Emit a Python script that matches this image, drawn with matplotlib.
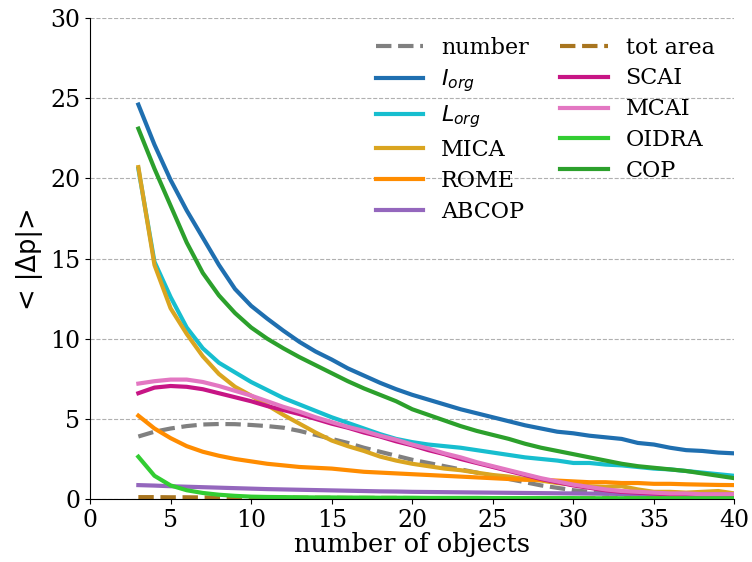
import numpy as np
import matplotlib
matplotlib.use('Agg')
import matplotlib.pyplot as plt

# number of objects
n_obj = np.arange(3, 41)

# mean |delta p| per metric
number = [3.9, 4.2, 4.4, 4.55, 4.65, 4.68, 4.67, 4.62, 4.55, 4.45, 4.25, 4.0, 3.75, 3.5, 3.2, 2.95,
          2.7, 2.45, 2.25, 2.05, 1.85, 1.65, 1.45, 1.25, 1.05, 0.85, 0.7, 0.55, 0.45, 0.35, 0.3,
          0.25, 0.2, 0.2, 0.15, 0.15, 0.15, 0.15]
iorg = [24.6, 22.1, 19.9, 18.0, 16.3, 14.6, 13.1, 12.05, 11.25, 10.5, 9.8, 9.2, 8.7, 8.15, 7.7,
        7.25, 6.85, 6.5, 6.2, 5.9, 5.6, 5.35, 5.1, 4.85, 4.6, 4.4, 4.2, 4.1, 3.95, 3.85, 3.75,
        3.5, 3.4, 3.2, 3.05, 3.0, 2.9, 2.85]
lorg = [20.6, 14.8, 12.6, 10.7, 9.4, 8.5, 7.9, 7.3, 6.8, 6.3, 5.9, 5.5, 5.1, 4.75, 4.4, 4.05,
        3.75, 3.55, 3.4, 3.3, 3.2, 3.05, 2.9, 2.75, 2.6, 2.5, 2.4, 2.25, 2.25, 2.15, 2.1, 2.0,
        1.9, 1.85, 1.75, 1.65, 1.55, 1.45]
mica = [20.7, 14.6, 11.9, 10.3, 8.9, 7.8, 7.0, 6.45, 5.85, 5.25, 4.7, 4.15, 3.65, 3.3, 3.0, 2.65,
        2.4, 2.2, 2.05, 1.9, 1.8, 1.65, 1.5, 1.4, 1.25, 1.15, 1.0, 0.9, 0.8, 0.75, 0.8, 0.6,
        0.45, 0.45, 0.4, 0.45, 0.5, 0.35]
rome = [5.2, 4.4, 3.8, 3.3, 2.95, 2.7, 2.5, 2.35, 2.2, 2.1, 2.0, 1.95, 1.9, 1.8, 1.7, 1.65,
        1.6, 1.55, 1.5, 1.45, 1.4, 1.35, 1.3, 1.25, 1.2, 1.2, 1.15, 1.1, 1.05, 1.05, 1.0, 1.0,
        0.95, 0.95, 0.92, 0.9, 0.88, 0.87]
abcop = [0.87, 0.84, 0.8, 0.77, 0.74, 0.71, 0.68, 0.65, 0.62, 0.6, 0.58, 0.56, 0.54, 0.52, 0.5,
         0.48, 0.47, 0.45, 0.44, 0.43, 0.42, 0.41, 0.4, 0.39, 0.38, 0.37, 0.36, 0.35, 0.34, 0.33,
         0.32, 0.31, 0.3, 0.3, 0.29, 0.29, 0.28, 0.28]
tot_area = [0.12, 0.12, 0.11, 0.11, 0.1, 0.1, 0.1, 0.09, 0.09, 0.09, 0.08, 0.08, 0.08, 0.07,
            0.07, 0.07, 0.07, 0.06, 0.06, 0.06, 0.06, 0.06, 0.05, 0.05, 0.05, 0.05, 0.05, 0.05,
            0.05, 0.05, 0.05, 0.05, 0.05, 0.05, 0.05, 0.05, 0.05, 0.05]
scai = [6.6, 6.95, 7.05, 7.0, 6.85, 6.6, 6.35, 6.1, 5.8, 5.55, 5.3, 5.0, 4.7, 4.45, 4.15, 3.9,
        3.6, 3.35, 3.05, 2.8, 2.5, 2.25, 2.0, 1.75, 1.5, 1.25, 1.05, 0.85, 0.7, 0.55, 0.45, 0.4,
        0.35, 0.3, 0.3, 0.25, 0.25, 0.25]
mcai = [7.2, 7.35, 7.45, 7.45, 7.3, 7.05, 6.75, 6.45, 6.1, 5.75, 5.45, 5.1, 4.8, 4.5, 4.25, 3.95,
        3.7, 3.4, 3.15, 2.85, 2.6, 2.3, 2.05, 1.8, 1.55, 1.3, 1.1, 0.9, 0.75, 0.6, 0.5, 0.45,
        0.4, 0.35, 0.35, 0.3, 0.3, 0.3]
oidra = [2.64, 1.45, 0.85, 0.55, 0.38, 0.27, 0.2, 0.15, 0.13, 0.12, 0.11, 0.1, 0.1, 0.09, 0.09,
         0.08, 0.08, 0.08, 0.07, 0.07, 0.07, 0.07, 0.06, 0.06, 0.06, 0.06, 0.06, 0.06, 0.05,
         0.05, 0.05, 0.05, 0.05, 0.05, 0.05, 0.05, 0.05, 0.05]
cop = [23.1, 20.6, 18.3, 16.0, 14.1, 12.7, 11.6, 10.7, 10.0, 9.4, 8.85, 8.35, 7.85, 7.35, 6.9,
       6.5, 6.1, 5.6, 5.25, 4.9, 4.55, 4.25, 4.0, 3.75, 3.45, 3.2, 3.0, 2.8, 2.6, 2.4, 2.2, 2.05,
       1.95, 1.85, 1.75, 1.6, 1.45, 1.3]

series = [
    (number, 'number', 'gray', '--'),
    (iorg, '$I_{org}$', '#1f6fb0', '-'),
    (lorg, '$L_{org}$', '#17becf', '-'),
    (mica, 'MICA', '#daa520', '-'),
    (rome, 'ROME', '#ff8c00', '-'),
    (abcop, 'ABCOP', '#9467bd', '-'),
    (tot_area, 'tot area', '#a8751f', '--'),
    (scai, 'SCAI', '#c71585', '-'),
    (mcai, 'MCAI', '#e377c2', '-'),
    (oidra, 'OIDRA', '#32cd32', '-'),
    (cop, 'COP', '#2ca02c', '-'),
]

plt.rcParams['font.family'] = 'DejaVu Serif'
plt.rcParams['mathtext.fontset'] = 'dejavusans'

fig = plt.figure(figsize=(7.52, 5.62), dpi=100)
ax = fig.add_axes([0.1197, 0.112, 0.857, 0.856])

for vals, name, col, ls in series:
    ax.plot(n_obj, vals, ls, color=col, lw=3, label=name)

ax.set_xlim(0, 40)
ax.set_ylim(0, 30)
ax.set_yticks(range(0, 31, 5))
ax.grid(axis='y', ls='--', color='#b0b0b0', lw=0.8)
ax.set_axisbelow(True)
ax.spines['top'].set_visible(False)
ax.spines['right'].set_visible(False)
ax.tick_params(labelsize=17)
ax.set_xlabel('number of objects', fontsize=18.5, labelpad=0)
ax.set_ylabel('< |Δp|>', fontsize=18.5, family='DejaVu Sans', labelpad=5)

ax.legend(ncol=2, frameon=False, fontsize=16, loc='upper right',
          bbox_to_anchor=(1.0, 1.003), handlelength=2.15, columnspacing=1.4,
          labelspacing=0.4, handletextpad=0.8)

fig.savefig('out.png', dpi=100)
